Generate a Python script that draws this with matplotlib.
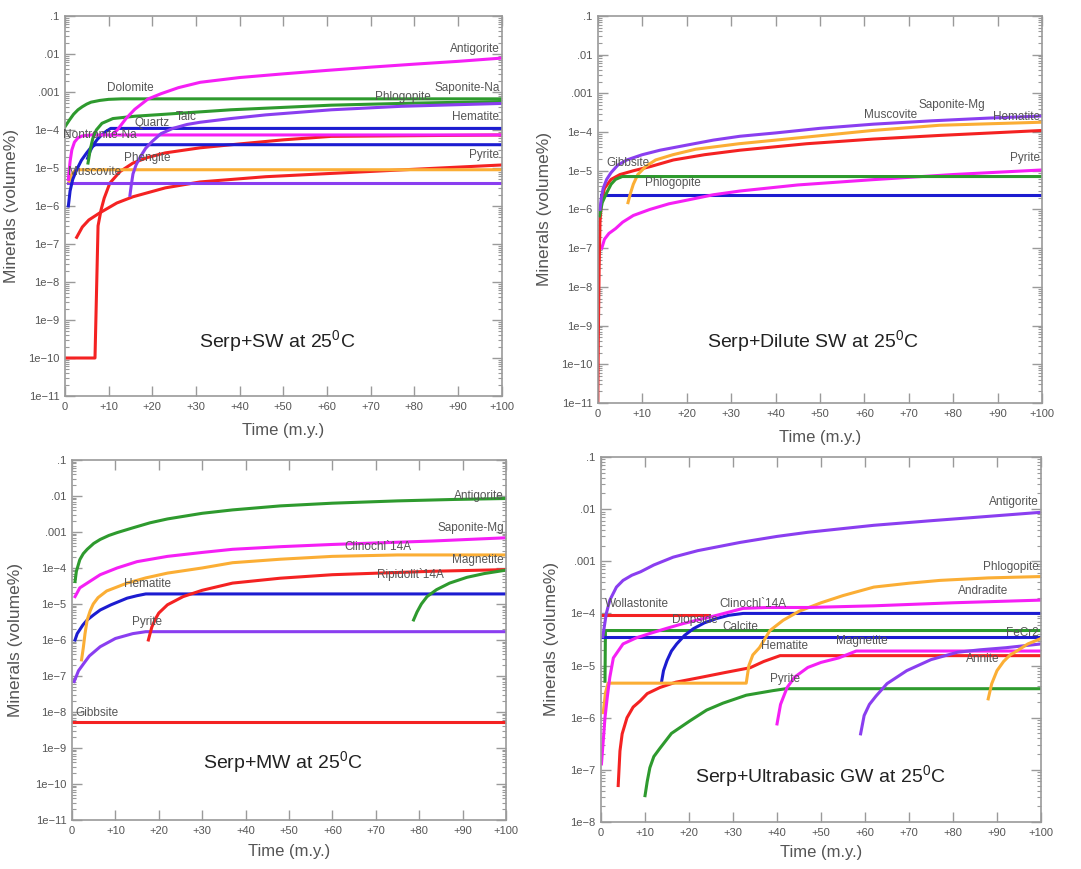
import numpy as np
import matplotlib
matplotlib.use('Agg')
import matplotlib.pyplot as plt
from matplotlib.ticker import FixedLocator, NullFormatter, LogLocator

plt.rcParams['font.family'] = ['Liberation Sans', 'DejaVu Sans']
plt.rcParams['mathtext.fontset'] = 'custom'
plt.rcParams['mathtext.rm'] = 'Liberation Sans'

# colours used by the GWB style plots
GREEN = '#2e9a2e'
MAGENTA = '#f51ff5'
BLUE = '#1c1cd0'
RED = '#f42222'
ORANGE = '#fbae35'
PURPLE = '#8a3ef0'
TXT = '#555555'
AXC = '#9a9a9a'

x_ticks = [0, 10, 20, 30, 40, 50, 60, 70, 80, 90, 100]
x_labels = ['0', '+10', '+20', '+30', '+40', '+50', '+60', '+70', '+80', '+90', '+100']
y_ticks_full = [1e-1, 1e-2, 1e-3, 1e-4, 1e-5, 1e-6, 1e-7, 1e-8, 1e-9, 1e-10, 1e-11]
y_labels_full = ['.1', '.01', '.001', '1e\u22124', '1e\u22125', '1e\u22126', '1e\u22127',
                 '1e\u22128', '1e\u22129', '1e\u221210', '1e\u221211']

# ---- panel 1 : Serp + SW ----
sw_antigorite_t = [10.5, 12, 14, 16, 19, 22, 26, 31, 40, 50, 60, 70, 80, 90, 100]
sw_antigorite_v = [7e-5, 1e-4, 2e-4, 3.5e-4, 6.5e-4, 9e-4, 1.3e-3, 1.8e-3, 2.4e-3, 3e-3, 3.7e-3,
                   4.5e-3, 5.4e-3, 6.4e-3, 7.8e-3]
sw_nontronite_t = [0.8, 1.2, 1.6, 2.2, 3, 4, 6, 100]
sw_nontronite_v = [5e-6, 1.5e-5, 3e-5, 4.8e-5, 6.2e-5, 7e-5, 7.4e-5, 7.4e-5]
sw_dolomite_t = [0, 1, 2, 3, 4, 5, 6, 8, 10, 13, 100]
sw_dolomite_v = [1.2e-4, 1.8e-4, 2.6e-4, 3.4e-4, 4.1e-4, 4.8e-4, 5.4e-4, 6e-4, 6.4e-4, 6.6e-4, 6.6e-4]
sw_talc_t = [5.3, 5.8, 6.4, 7.2, 8.5, 11, 16, 23, 38, 61, 80, 100]
sw_talc_v = [1.35e-5, 3e-5, 6e-5, 1e-4, 1.5e-4, 2e-4, 2.3e-4, 2.6e-4, 3.4e-4, 4.5e-4, 5.1e-4, 5.6e-4]
sw_quartz_t = [0.8, 1.2, 1.8, 2.7, 3.8, 5, 6, 7, 100]
sw_quartz_v = [1e-6, 2.5e-6, 5e-6, 9e-6, 1.6e-5, 2.5e-5, 3.5e-5, 4.1e-5, 4.1e-5]
sw_hematite_t = [5.2, 5.8, 6.6, 7.5, 8.5, 9.5, 10.5, 100]
sw_hematite_v = [1.8e-5, 2.8e-5, 4.2e-5, 5.8e-5, 7.5e-5, 9.3e-5, 1.1e-4, 1.1e-4]
sw_muscovite_t = [1, 1.5, 2.2, 3, 100]
sw_muscovite_v = [4.5e-6, 6.5e-6, 8.3e-6, 9e-6, 9e-6]
sw_kaol_t = [0.8, 100]
sw_kaol_v = [4.1e-6, 4.1e-6]
sw_phlogopite_t = [14.9, 15.2, 15.6, 16.3, 17.2, 18.5, 20, 22, 24.7, 28, 31, 38, 46, 61, 77, 100]
sw_phlogopite_v = [1.9e-6, 3.5e-6, 7e-6, 1.2e-5, 1.9e-5, 3.3e-5, 5e-5, 8e-5, 1.1e-4, 1.4e-4,
                   1.6e-4, 2e-4, 2.5e-4, 3.4e-4, 4.2e-4, 5e-4]
sw_pyrite_t = [2.7, 4, 5.5, 8, 11.9, 15.6, 23, 31, 46, 61, 77, 100]
sw_pyrite_v = [1.5e-7, 2.8e-7, 4.3e-7, 6.6e-7, 1.2e-6, 1.75e-6, 3e-6, 4.3e-6, 5.9e-6, 7.2e-6,
               8.9e-6, 1.2e-5]
sw_phengite_t = [0, 6.9, 7.6, 8.3, 9, 10.3, 12.6, 15.6, 19, 23, 31, 40, 50, 61, 100]
sw_phengite_v = [1e-10, 1e-10, 3e-7, 8e-7, 1.6e-6, 4e-6, 8e-6, 1.35e-5, 1.9e-5, 2.5e-5, 3.4e-5,
                 4.3e-5, 5.5e-5, 6.8e-5, 7.4e-5]

# ---- panel 2 : Serp + Dilute SW ----
dsw_saponite_t = [0.5, 0.8, 1.2, 2, 3, 4.5, 6.5, 10, 14, 20, 26, 32, 40, 50, 62, 75, 88, 100]
dsw_saponite_v = [1e-6, 2e-6, 3.5e-6, 6e-6, 9e-6, 1.4e-5, 1.9e-5, 2.6e-5, 3.4e-5, 4.6e-5, 6.2e-5,
                  7.8e-5, 9.5e-5, 1.25e-4, 1.6e-4, 1.95e-4, 2.3e-4, 2.6e-4]
dsw_muscovite_t = [6.8, 7.3, 8, 9, 10.8, 13, 16.9, 22, 31.8, 46.8, 61.8, 76.9, 100]
dsw_muscovite_v = [1.5e-6, 2.5e-6, 4.5e-6, 8e-6, 1.3e-5, 1.9e-5, 2.6e-5, 3.6e-5, 5e-5, 7.4e-5,
                   1.1e-4, 1.5e-4, 1.8e-4]
dsw_hematite_t = [0, 0.15, 0.3, 0.5, 0.8, 1.5, 3, 5, 8, 12, 17, 24, 32, 47, 62, 77, 100]
dsw_hematite_v = [1e-11, 1e-9, 3e-8, 5e-7, 1.5e-6, 3.5e-6, 6e-6, 8e-6, 1e-5, 1.3e-5, 1.9e-5,
                  2.6e-5, 3.4e-5, 5e-5, 6.6e-5, 8.2e-5, 1.1e-4]
dsw_gibbsite_t = [0.4, 1, 2, 3, 4, 5.5, 100]
dsw_gibbsite_v = [6.8e-7, 1.5e-6, 2.7e-6, 4.5e-6, 6e-6, 7.1e-6, 7.1e-6]
dsw_phlogopite_t = [0.8, 100]
dsw_phlogopite_v = [2.3e-6, 2.3e-6]
dsw_pyrite_t = [0.9, 1.5, 2.5, 4, 5.6, 8, 11.7, 16, 20.7, 26, 32, 45, 62, 80, 100]
dsw_pyrite_v = [1e-7, 1.7e-7, 2.4e-7, 3.2e-7, 4.7e-7, 7e-7, 1e-6, 1.4e-6, 1.8e-6, 2.4e-6, 3e-6,
                4.3e-6, 5.9e-6, 8e-6, 1.05e-5]

# ---- panel 3 : Serp + MW ----
mw_antigorite_t = [0.7, 1, 1.8, 2.6, 3.5, 5, 6.5, 8.5, 10.4, 14, 18, 22, 30, 37, 48, 60, 75, 88, 100]
mw_antigorite_v = [4.2e-5, 8e-5, 1.7e-4, 2.5e-4, 3.3e-4, 4.8e-4, 6.2e-4, 8e-4, 9.6e-4, 1.3e-3,
                   1.8e-3, 2.3e-3, 3.3e-3, 4.1e-3, 5.3e-3, 6.3e-3, 7.3e-3, 8e-3, 8.5e-3]
mw_saponite_t = [0.7, 1.8, 3.5, 6.5, 10.4, 15, 22, 30, 37, 48, 60, 83, 100]
mw_saponite_v = [1.6e-5, 2.8e-5, 3.8e-5, 6.5e-5, 1e-4, 1.5e-4, 2.1e-4, 2.7e-4, 3.3e-4, 3.9e-4,
                 4.5e-4, 5.6e-4, 6.9e-4]
mw_clinochl_t = [2.2, 2.6, 3, 3.5, 4.2, 4.9, 6, 8, 12.7, 17, 22, 30, 37, 48, 60, 75, 100]
mw_clinochl_v = [2.8e-7, 6e-7, 1.5e-6, 3.6e-6, 6.5e-6, 1e-5, 1.5e-5, 2.3e-5, 3.8e-5, 5.3e-5,
                 7.2e-5, 1e-4, 1.4e-4, 1.75e-4, 2.1e-4, 2.3e-4, 2.3e-4]
mw_hematite_t = [0.7, 1.2, 2.5, 3.5, 5, 6.5, 9, 12.7, 15, 17, 100]
mw_hematite_v = [1e-6, 1.5e-6, 2.6e-6, 3.6e-6, 5e-6, 6.8e-6, 9.5e-6, 1.45e-5, 1.7e-5, 1.9e-5, 1.9e-5]
mw_pyrite_t = [0.5, 1.5, 2.8, 4, 6.5, 10, 14, 17, 100]
mw_pyrite_v = [7e-8, 1.4e-7, 2.3e-7, 3.6e-7, 6.5e-7, 1.1e-6, 1.5e-6, 1.7e-6, 1.7e-6]
mw_ripidolite_t = [17.6, 18.4, 19.2, 20, 22, 25.6, 30, 37, 48, 60, 83, 100]
mw_ripidolite_v = [1e-6, 2.3e-6, 3.8e-6, 5.6e-6, 9.5e-6, 1.6e-5, 2.4e-5, 3.8e-5, 5.2e-5, 6.5e-5,
                   8.1e-5, 9e-5]
mw_magnetite_t = [78.7, 79.5, 80.5, 81.8, 84, 87, 91, 95, 100]
mw_magnetite_v = [3.6e-6, 6e-6, 1e-5, 1.6e-5, 2.5e-5, 3.8e-5, 5.5e-5, 7e-5, 8.7e-5]
mw_gibbsite_t = [0, 100]
mw_gibbsite_v = [5.3e-9, 5.3e-9]

# ---- panel 4 : Serp + Ultrabasic GW ----
ub_antigorite_t = [0.4, 0.8, 1.2, 2, 3.5, 5, 7, 9, 12, 16.4, 22, 31.6, 40, 47, 62, 75, 84.5, 100]
ub_antigorite_v = [3.6e-5, 6e-5, 1e-4, 1.8e-4, 3.2e-4, 4.3e-4, 5.4e-4, 6.3e-4, 8.5e-4, 1.2e-3,
                   1.6e-3, 2.3e-3, 3e-3, 3.6e-3, 4.9e-3, 6e-3, 6.9e-3, 8.7e-3]
ub_phlogopite_t = [0.5, 1, 1.6, 33, 33.6, 34.5, 36, 38.4, 41.4, 45, 50, 55, 62, 70, 77, 88, 100]
ub_phlogopite_v = [1.25e-6, 3e-6, 4.6e-6, 4.6e-6, 1e-5, 1.6e-5, 2.2e-5, 4.7e-5, 7.4e-5, 1.1e-4,
                   1.6e-4, 2.2e-4, 3.2e-4, 3.8e-4, 4.3e-4, 4.8e-4, 5.1e-4]
ub_andradite_t = [0.1, 0.9, 1.4, 2, 2.8, 5, 8, 11, 15, 18.7, 26.3, 32.3, 37.7, 47, 62, 80, 100]
ub_andradite_v = [1.3e-7, 1e-6, 2.4e-6, 6e-6, 1.4e-5, 2.6e-5, 3.4e-5, 4.1e-5, 5.2e-5, 6.4e-5,
                  9.2e-5, 1.25e-4, 1.3e-4, 1.3e-4, 1.4e-4, 1.6e-4, 1.8e-4]
ub_wollastonite_t = [0, 24.5]
ub_wollastonite_v = [9.5e-5, 9.5e-5]
ub_calcite_t = [0.9, 1.0, 100]
ub_calcite_v = [5e-6, 4.7e-5, 4.7e-5]
ub_fecr_flat_t = [0, 100]
ub_fecr_flat_v = [3.5e-5, 3.5e-5]
ub_diopside_t = [13.8, 14.2, 15, 16, 17.2, 19, 21, 23.5, 26.3, 29, 32.3, 100]
ub_diopside_v = [5.1e-6, 8e-6, 1.25e-5, 1.9e-5, 2.6e-5, 3.8e-5, 5.1e-5, 6.6e-5, 8e-5, 9.2e-5,
                 1e-4, 1e-4]
ub_hematite_t = [3.9, 4.3, 4.8, 5.9, 7.3, 8.9, 10.5, 13.4, 17, 22.5, 28, 33.9, 37, 40.7, 100]
ub_hematite_v = [5e-8, 2.3e-7, 4.9e-7, 1e-6, 1.6e-6, 2.1e-6, 2.9e-6, 3.8e-6, 4.8e-6, 5.9e-6,
                 7.3e-6, 9.1e-6, 1.2e-5, 1.55e-5, 1.55e-5]
ub_pyrite_t = [10, 10.5, 11.1, 12, 13.4, 16, 20.2, 24, 27.7, 33, 39, 42, 100]
ub_pyrite_v = [3.2e-8, 6e-8, 1.1e-7, 1.8e-7, 2.6e-7, 5e-7, 8.7e-7, 1.4e-6, 1.9e-6, 2.7e-6, 3.3e-6,
               3.6e-6, 3.6e-6]
ub_magnetite_t = [40, 40.8, 42.3, 44, 47, 50, 54, 58, 100]
ub_magnetite_v = [7.6e-7, 1.8e-6, 3.8e-6, 6e-6, 9.2e-6, 1.15e-5, 1.4e-5, 1.9e-5, 1.9e-5]
ub_annite_t = [59, 59.8, 61, 62.5, 65, 69.5, 75, 81, 86, 92, 100]
ub_annite_v = [4.9e-7, 1.1e-6, 1.8e-6, 2.6e-6, 4.5e-6, 8e-6, 1.3e-5, 1.8e-5, 2e-5, 2.2e-5, 2.6e-5]
ub_fecr_t = [88, 88.8, 90, 91.5, 93, 94.5, 97, 100]
ub_fecr_v = [2.3e-6, 4.5e-6, 8e-6, 1.2e-5, 1.6e-5, 1.9e-5, 2.6e-5, 3.3e-5]

# curve labels (text, x, y, alignment)
sw_names = [('Antigorite', 99.5, 1.35e-2, 'right'), ('Dolomite', 14.9, 1.3e-3, 'center'),
            ('Saponite-Na', 99.5, 1.3e-3, 'right'), ('Phlogopite', 77.3, 7.4e-4, 'center'),
            ('Talc', 27.9, 2.2e-4, 'center'), ('Quartz', 19.9, 1.5e-4, 'center'),
            ('Hematite', 99.5, 2.2e-4, 'right'), ('Nontronite-Na', 8, 7.4e-5, 'center'),
            ('Phengite', 18.8, 1.8e-5, 'center'), ('Pyrite', 99.5, 2.2e-5, 'right'),
            ('Muscovite', 6.9, 8e-6, 'center')]
dsw_names = [('Saponite-Mg', 79.7, 4.9e-4, 'center'), ('Muscovite', 65.8, 2.7e-4, 'center'),
             ('Hematite', 99.5, 2.4e-4, 'right'), ('Pyrite', 99.5, 2.2e-5, 'right'),
             ('Gibbsite', 6.8, 1.6e-5, 'center'), ('Phlogopite', 16.9, 4.8e-6, 'center')]
mw_names = [('Antigorite', 99.5, 1.0e-2, 'right'), ('Saponite-Mg', 99.5, 1.3e-3, 'right'),
            ('Clinochl`14A', 70.5, 3.8e-4, 'center'), ('Magnetite', 99.5, 1.7e-4, 'right'),
            ('Ripidolit`14A', 77.9, 6.4e-5, 'center'), ('Hematite', 17.5, 3.6e-5, 'center'),
            ('Pyrite', 17.3, 3.2e-6, 'center'), ('Gibbsite', 0.7, 9.3e-9, 'left')]
ub_names = [('Antigorite', 99.5, 1.35e-2, 'right'), ('Phlogopite', 99.5, 7.9e-4, 'right'),
            ('Andradite', 86.8, 2.7e-4, 'center'), ('Wollastonite', 0.8, 1.5e-4, 'left'),
            ('Clinochl`14A', 34.5, 1.55e-4, 'center'), ('Diopside', 21.4, 7.4e-5, 'center'),
            ('Calcite', 31.6, 5.4e-5, 'center'), ('Hematite', 41.8, 2.4e-5, 'center'),
            ('Magnetite', 59.3, 3e-5, 'center'), ('FeCr2', 99.5, 4.3e-5, 'right'),
            ('Annite', 86.8, 1.35e-5, 'center'), ('Pyrite', 41.8, 5.6e-6, 'center')]


def setup_axes(ax, ymin, ylab_x, xlab_y):
    ax.set_yscale('log')
    ax.set_xlim(0, 100)
    ax.set_ylim(ymin, 0.1)
    n = int(round(-np.log10(ymin)))
    ax.yaxis.set_major_locator(FixedLocator(y_ticks_full[:n]))
    ax.set_yticklabels(y_labels_full[:n])
    # numticks high so the minor ticks are kept over 10 decades
    ax.yaxis.set_minor_locator(LogLocator(base=10, subs=np.arange(2, 10), numticks=200))
    ax.yaxis.set_minor_formatter(NullFormatter())
    ax.set_xticks(x_ticks)
    ax.set_xticklabels(x_labels)
    ax.tick_params(which='major', direction='in', top=True, right=True, length=7,
                   width=1, color=AXC, labelcolor=TXT, labelsize=8, pad=4)
    ax.tick_params(which='minor', direction='in', left=True, right=True, length=3,
                   width=0.8, color=AXC)
    for s in ax.spines.values():
        s.set_color(AXC)
        s.set_linewidth(1.2)
    ax.set_ylabel('Minerals (volume%)', fontsize=12.5, color=TXT)
    ax.set_xlabel('Time (m.y.)', fontsize=12, color=TXT)
    ax.yaxis.set_label_coords(ylab_x, 0.5)
    ax.xaxis.set_label_coords(0.5, xlab_y)


def put_names(ax, names):
    for name, x, y, ha in names:
        ax.text(x, y, name, ha=ha, va='center', fontsize=8.5, color=TXT)


fig = plt.figure(figsize=(10.81, 8.69), dpi=100)

ax1 = fig.add_axes([0.060, 0.5443, 0.404, 0.4373])
ax2 = fig.add_axes([0.553, 0.5363, 0.411, 0.4453])
ax3 = fig.add_axes([0.0666, 0.0564, 0.4015, 0.4143])
ax4 = fig.add_axes([0.556, 0.0541, 0.407, 0.420])

lw = 2.2

# panel 1
for t, v, c in [(sw_phengite_t, sw_phengite_v, RED), (sw_pyrite_t, sw_pyrite_v, RED),
                (sw_kaol_t, sw_kaol_v, PURPLE), (sw_muscovite_t, sw_muscovite_v, ORANGE),
                (sw_quartz_t, sw_quartz_v, BLUE), (sw_hematite_t, sw_hematite_v, BLUE),
                (sw_nontronite_t, sw_nontronite_v, MAGENTA), (sw_talc_t, sw_talc_v, GREEN),
                (sw_dolomite_t, sw_dolomite_v, GREEN), (sw_phlogopite_t, sw_phlogopite_v, PURPLE),
                (sw_antigorite_t, sw_antigorite_v, MAGENTA)]:
    ax1.plot(t, v, color=c, lw=lw)
setup_axes(ax1, 1e-11, -0.105, -0.072)
put_names(ax1, sw_names)
ax1.text(0.487, 0.142, 'Serp+SW at 25$^0$C', transform=ax1.transAxes, ha='center', va='center',
         fontsize=14, color='#222222')

# panel 2
for t, v, c in [(dsw_phlogopite_t, dsw_phlogopite_v, BLUE), (dsw_pyrite_t, dsw_pyrite_v, MAGENTA),
                (dsw_hematite_t, dsw_hematite_v, RED), (dsw_muscovite_t, dsw_muscovite_v, ORANGE),
                (dsw_gibbsite_t, dsw_gibbsite_v, GREEN), (dsw_saponite_t, dsw_saponite_v, PURPLE)]:
    ax2.plot(t, v, color=c, lw=lw)
setup_axes(ax2, 1e-11, -0.104, -0.070)
put_names(ax2, dsw_names)
ax2.text(0.484, 0.158, 'Serp+Dilute SW at 25$^0$C', transform=ax2.transAxes, ha='center',
         va='center', fontsize=14, color='#222222')

# panel 3
for t, v, c in [(mw_gibbsite_t, mw_gibbsite_v, RED), (mw_pyrite_t, mw_pyrite_v, PURPLE),
                (mw_hematite_t, mw_hematite_v, BLUE), (mw_clinochl_t, mw_clinochl_v, ORANGE),
                (mw_ripidolite_t, mw_ripidolite_v, RED), (mw_magnetite_t, mw_magnetite_v, GREEN),
                (mw_saponite_t, mw_saponite_v, MAGENTA), (mw_antigorite_t, mw_antigorite_v, GREEN)]:
    ax3.plot(t, v, color=c, lw=lw)
setup_axes(ax3, 1e-11, -0.113, -0.068)
put_names(ax3, mw_names)
ax3.text(0.486, 0.158, 'Serp+MW at 25$^0$C', transform=ax3.transAxes, ha='center', va='center',
         fontsize=14, color='#222222')

# panel 4
for t, v, c in [(ub_wollastonite_t, ub_wollastonite_v, RED), (ub_calcite_t, ub_calcite_v, GREEN),
                (ub_fecr_flat_t, ub_fecr_flat_v, BLUE), (ub_pyrite_t, ub_pyrite_v, GREEN),
                (ub_hematite_t, ub_hematite_v, RED), (ub_diopside_t, ub_diopside_v, BLUE),
                (ub_phlogopite_t, ub_phlogopite_v, ORANGE), (ub_andradite_t, ub_andradite_v, MAGENTA),
                (ub_magnetite_t, ub_magnetite_v, MAGENTA), (ub_annite_t, ub_annite_v, PURPLE),
                (ub_fecr_t, ub_fecr_v, ORANGE), (ub_antigorite_t, ub_antigorite_v, PURPLE)]:
    ax4.plot(t, v, color=c, lw=lw)
setup_axes(ax4, 1e-8, -0.095, -0.063)
put_names(ax4, ub_names)
ax4.text(0.498, 0.123, 'Serp+Ultrabasic GW at 25$^0$C', transform=ax4.transAxes, ha='center',
         va='center', fontsize=14, color='#222222')

fig.savefig('out.png', dpi=100)
